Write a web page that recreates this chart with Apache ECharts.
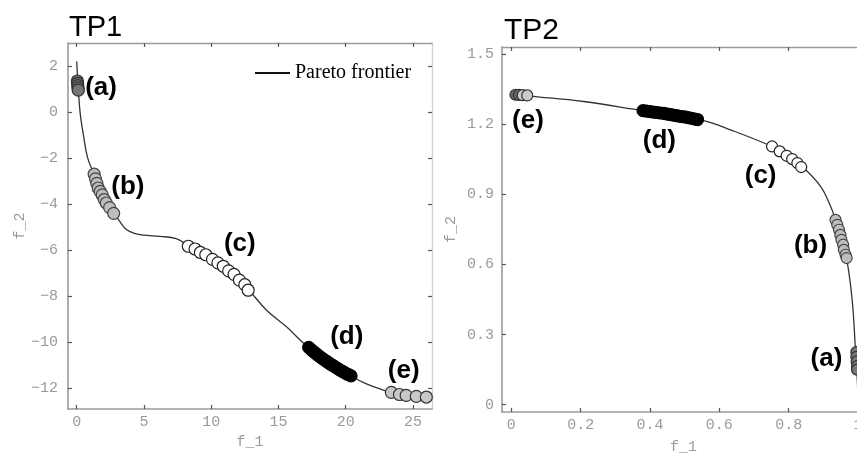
<!DOCTYPE html>
<html><head><meta charset="utf-8">
<script src="https://cdn.jsdelivr.net/npm/echarts@6/dist/echarts.min.js"></script>
<style>html,body{margin:0;padding:0;background:#fff}#c{width:857px;height:454px}</style>
</head><body><div id="c"></div><script>
// ---- TP1 data ----
const TP1_CURVE_X = [0.0, 0.1, 0.25, 0.5, 0.82, 1.3, 1.8, 2.3, 2.8, 3.2, 3.7, 4.3, 4.95, 6.2, 7.4, 8.3, 10.5, 12.75, 14.1, 15.6, 16.9, 18.5, 20.5, 21.5, 22.8, 23.4, 24.5, 25.5, 26.42];
const TP1_CURVE_Y = [2.2, 1.2, 0.0, -1.0, -2.0, -2.7, -3.45, -4.0, -4.4, -4.75, -5.1, -5.27, -5.35, -5.4, -5.5, -5.8, -6.6, -7.72, -8.6, -9.33, -10.05, -10.78, -11.5, -11.8, -12.08, -12.18, -12.31, -12.37, -12.41];
const TP1_A = [[0.05,1.35],[0.07,1.25],[0.08,1.15],[0.1,1.05],[0.12,0.95]];
const TP1_B = [[1.3,-2.7],[1.4,-2.9],[1.5,-3.1],[1.6,-3.3],[1.75,-3.45],[1.9,-3.6],[2.05,-3.8],[2.2,-3.95],[2.45,-4.15],[2.75,-4.4]];
const TP1_C = [[8.3,-5.83],[8.8,-5.95],[9.2,-6.1],[9.6,-6.2],[10.1,-6.4],[10.5,-6.55],[10.9,-6.7],[11.3,-6.9],[11.7,-7.05],[12.1,-7.3],[12.5,-7.5],[12.75,-7.74]];
const TP1_D = [[17.25,-10.22],[17.4,-10.3],[17.55,-10.38],[17.7,-10.45],[17.85,-10.52],[18.0,-10.59],[18.15,-10.66],[18.3,-10.72],[18.45,-10.78],[18.6,-10.84],[18.75,-10.9],[18.9,-10.96],[19.05,-11.01],[19.2,-11.07],[19.35,-11.12],[19.5,-11.18],[19.65,-11.23],[19.8,-11.28],[19.95,-11.33],[20.1,-11.38],[20.25,-11.42],[20.4,-11.46]];
const TP1_E = [[23.4,-12.18],[24.0,-12.27],[24.5,-12.31],[25.25,-12.35],[26.0,-12.38]];
const TP1_LABELS = [[1.81,1.04,'(a)'],[3.81,-3.26,'(b)'],[12.13,-5.74,'(c)'],[20.08,-9.78,'(d)'],[24.32,-11.22,'(e)']];
const TP1_X_TICKS = [0, 5, 10, 15, 20, 25];
const TP1_Y_TICKS = [-12, -10, -8, -6, -4, -2, 0, 2];

// ---- TP2 data ----
const TP2_CURVE_X = [0.007, 0.06, 0.209, 0.363, 0.46, 0.555, 0.632, 0.747, 0.8, 0.839, 0.892, 0.921, 0.935, 0.955, 0.967, 0.983, 0.993, 0.998, 1.0];
const TP2_CURVE_Y = [1.325, 1.318, 1.296, 1.261, 1.238, 1.214, 1.175, 1.107, 1.065, 1.018, 0.933, 0.847, 0.79, 0.7, 0.627, 0.449, 0.22, 0.1, 0.0];
const TP2_A = [[0.995,0.225],[0.995,0.205],[0.996,0.185],[0.997,0.165],[0.997,0.15]];
const TP2_B = [[0.935,0.79],[0.94,0.769],[0.945,0.748],[0.949,0.726],[0.952,0.705],[0.957,0.684],[0.959,0.662],[0.964,0.641],[0.967,0.627]];
const TP2_C = [[0.752,1.104],[0.774,1.083],[0.794,1.064],[0.81,1.05],[0.825,1.033],[0.836,1.016]];
const TP2_D = [[0.38,1.257],[0.39,1.255],[0.4,1.253],[0.41,1.251],[0.42,1.249],[0.43,1.247],[0.44,1.245],[0.45,1.242],[0.46,1.24],[0.47,1.237],[0.48,1.235],[0.49,1.232],[0.5,1.23],[0.51,1.227],[0.52,1.224],[0.53,1.221],[0.537,1.219]];
const TP2_E_DARK = [[0.012,1.325],[0.022,1.324]];
const TP2_E_LIGHT = [[0.033,1.323],[0.046,1.322]];
const TP2_LABELS = [[0.909,0.197,'(a)'],[0.863,0.679,'(b)'],[0.719,0.979,'(c)'],[0.427,1.13,'(d)'],[0.048,1.214,'(e)']];
const TP2_X_TICKS = [0, 0.2, 0.4, 0.6, 0.8, 1];
const TP2_Y_TICKS = [0, 0.3, 0.6, 0.9, 1.2, 1.5];

const zip = (xs, ys) => xs.map((x, i) => [x, ys[i]]);
const TICK = '#555', FRAME = '#9a9a9a', FRAME_LIGHT = '#d2d2d2', LABEL = '#9a9a9a';
const MONO = 'Liberation Mono';
const fmt = v => (v < 0 ? '\u2212' : '') + String(Math.abs(v));

function mainAxis(grid, pos, min, max, ticks, margin, name, gap) {
  return {
    type: 'value', gridIndex: grid, position: pos, min: min, max: max,
    name: name, nameLocation: 'middle', nameGap: gap,
    nameTextStyle: { color: LABEL, fontFamily: MONO, fontSize: 15 },
    axisLine: { show: true, onZero: false, lineStyle: { color: FRAME, width: 1.6 } },
    axisTick: { show: true, inside: true, length: 4, customValues: ticks, lineStyle: { color: TICK, width: 1.2 } },
    axisLabel: { show: true, customValues: ticks, margin: margin, color: LABEL, fontFamily: MONO, fontSize: 15, formatter: fmt, hideOverlap: false },
    splitLine: { show: false }
  };
}
function mirrorAxis(grid, pos, min, max, ticks, color) {
  return {
    type: 'value', gridIndex: grid, position: pos, min: min, max: max,
    axisLine: { show: true, onZero: false, lineStyle: { color: color, width: 1.4 } },
    axisTick: { show: true, inside: true, length: 4, customValues: ticks, lineStyle: { color: TICK, width: 1.2 } },
    axisLabel: { show: false }, splitLine: { show: false }
  };
}
function markers(xi, data, fill, border, size) {
  return { type: 'scatter', xAxisIndex: xi, yAxisIndex: xi, data: data, symbolSize: size, z: 3, clip: false,
    itemStyle: { color: fill, borderColor: border, borderWidth: 1.2, opacity: 1 }, silent: true };
}
function labels(xi, data) {
  return { type: 'scatter', xAxisIndex: xi, yAxisIndex: xi, data: data, symbolSize: 1, z: 5, silent: true,
    itemStyle: { color: 'rgba(0,0,0,0)' },
    label: { show: true, position: 'inside', formatter: p => p.data[2], color: '#000', opacity: 1,
      textBorderWidth: 0, fontFamily: 'Liberation Sans', fontWeight: 'bold', fontSize: 26 } };
}

const X1 = [-0.646, 26.42], Y1 = [-12.9, 3.0];
const X2 = [-0.0268, 1.02], Y2 = [-0.031, 1.529];

const option = {
  animation: false,
  backgroundColor: '#fff',
  title: [
    { text: 'TP1', left: 69, top: 13, padding: 0, textStyle: { fontFamily: 'Liberation Sans', fontSize: 29, fontWeight: 'normal', color: '#000' } },
    { text: 'TP2', left: 504, top: 16, padding: 0, textStyle: { fontFamily: 'Liberation Sans', fontSize: 30, fontWeight: 'normal', color: '#000' } }
  ],
  legend: {
    data: ['Pareto frontier'], left: 255, top: 63, padding: 0, itemWidth: 35, itemHeight: 2, icon: 'rect',
    selectedMode: false, textStyle: { fontFamily: 'Liberation Serif', fontSize: 20, color: '#000' }
  },
  grid: [
    { left: 68, top: 43, width: 364, height: 366, outerBoundsMode: 'none', containLabel: false },
    { left: 502, top: 47, width: 363, height: 365, outerBoundsMode: 'none', containLabel: false }
  ],
  xAxis: [
    mainAxis(0, 'bottom', X1[0], X1[1], TP1_X_TICKS, 6, 'f_1', 26),
    mirrorAxis(0, 'top', X1[0], X1[1], TP1_X_TICKS, FRAME),
    mainAxis(1, 'bottom', X2[0], X2[1], TP2_X_TICKS, 6, 'f_1', 28),
    mirrorAxis(1, 'top', X2[0], X2[1], TP2_X_TICKS, FRAME)
  ],
  yAxis: [
    mainAxis(0, 'left', Y1[0], Y1[1], TP1_Y_TICKS, 10, 'f_2', 38),
    mirrorAxis(0, 'right', Y1[0], Y1[1], TP1_Y_TICKS, FRAME_LIGHT),
    mainAxis(1, 'left', Y2[0], Y2[1], TP2_Y_TICKS, 8, 'f_2', 43),
    mirrorAxis(1, 'right', Y2[0], Y2[1], TP2_Y_TICKS, FRAME_LIGHT)
  ],
  series: [
    { name: 'Pareto frontier', type: 'line', xAxisIndex: 0, yAxisIndex: 0, data: zip(TP1_CURVE_X, TP1_CURVE_Y),
      smooth: 0.4, showSymbol: false, color: '#111', lineStyle: { color: '#333', width: 1.3 }, z: 1, silent: true },
    markers(0, TP1_A, '#777', '#333', 12),
    markers(0, TP1_B, '#bdbdbd', '#444', 12),
    markers(0, TP1_C, '#fff', '#222', 12),
    markers(0, TP1_D, '#000', '#000', 12),
    markers(0, TP1_E, '#c8c8c8', '#333', 12),
    labels(0, TP1_LABELS),
    { name: 'Pareto frontier', type: 'line', xAxisIndex: 2, yAxisIndex: 2, data: zip(TP2_CURVE_X, TP2_CURVE_Y),
      smooth: 0.4, showSymbol: false, color: '#111', lineStyle: { color: '#333', width: 1.3 }, z: 1, silent: true },
    markers(2, TP2_A, '#777', '#333', 11),
    markers(2, TP2_B, '#bdbdbd', '#444', 11),
    markers(2, TP2_C, '#fff', '#222', 11),
    markers(2, TP2_D, '#000', '#000', 12),
    markers(2, TP2_E_DARK, '#666', '#333', 11),
    markers(2, TP2_E_LIGHT, '#ccc', '#333', 11),
    labels(2, TP2_LABELS)
  ]
};
const chart = echarts.init(document.getElementById('c'), null, { renderer: 'canvas' });
chart.setOption(option);
</script></body></html>
